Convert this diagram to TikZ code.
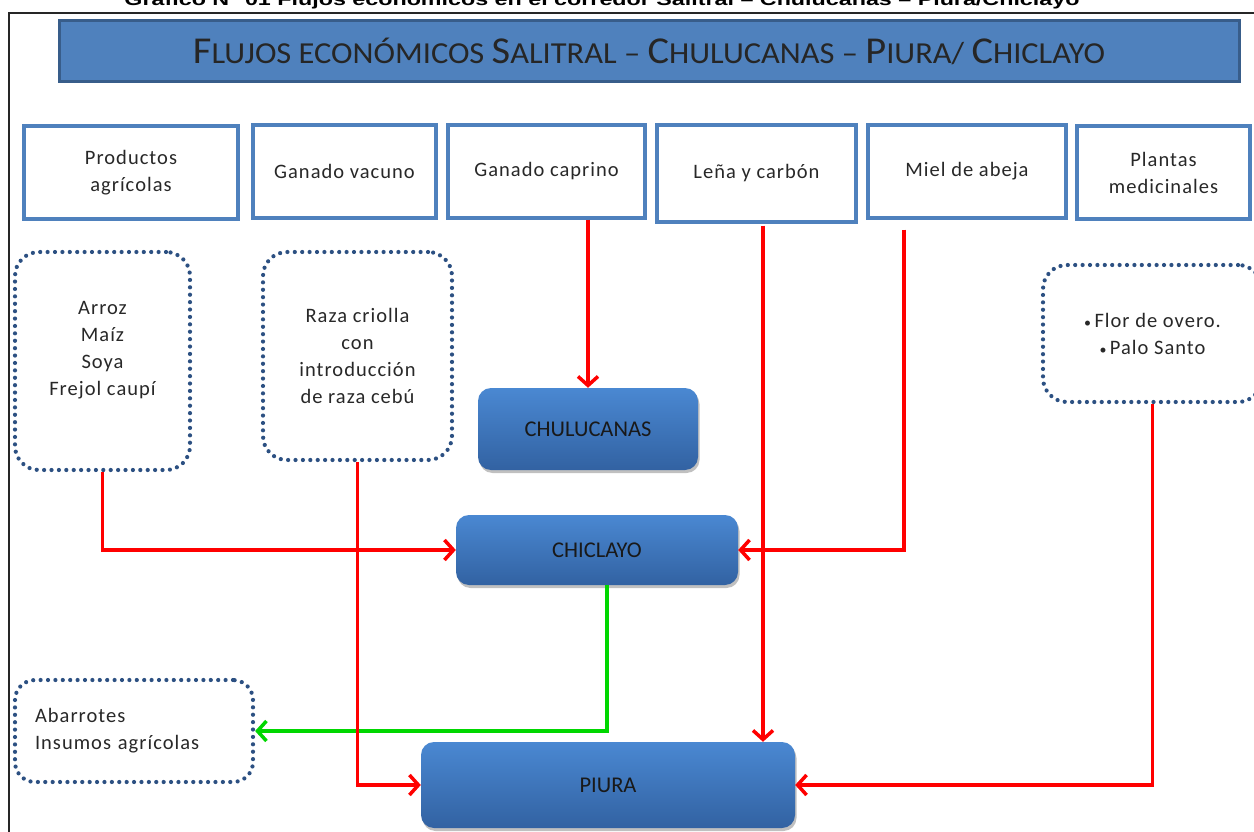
\documentclass[tikz,border=0pt]{standalone}
\usepackage{fontspec}
\usepackage{graphicx}
\setmainfont{Carlito}
\newfontfamily\capfont{Liberation Sans}
\usetikzlibrary{arrows.meta,shadows,calc}
\definecolor{tbfill}{RGB}{79,129,189}
\definecolor{tbdraw}{RGB}{56,93,138}
\definecolor{dotc}{RGB}{44,80,130}
\definecolor{boxtop}{RGB}{74,136,210}
\definecolor{boxbot}{RGB}{50,98,162}
\definecolor{txt}{RGB}{40,40,40}
\definecolor{arred}{RGB}{255,0,0}
\definecolor{argreen}{RGB}{0,215,0}
\newcommand\boxfont{\fontsize{20.5}{27}\selectfont\addfontfeature{LetterSpace=5}}
\newcommand\cityfont{\fontsize{22.5}{25}\selectfont}
\newcommand\Bg[1]{{\fontsize{38}{40}\selectfont #1}}
\tikzset{
  topbox/.style={draw=tbfill, line width=3.2pt, fill=white, minimum height=93pt,
    inner sep=4pt, align=center, text=txt, font=\boxfont},
  dotbox/.style={draw=dotc, line width=4.2pt, dash pattern=on 0pt off 7.4pt,
    line cap=round, rounded corners=24pt, align=center, text=txt, font=\boxfont},
  city/.style={rounded corners=13pt, top color=boxtop, bottom color=boxbot, draw=none,
    drop shadow={shadow xshift=1.5pt, shadow yshift=-3pt, opacity=.35, fill=black!70},
    text=black!90, font=\cityfont},
  flow/.style={draw=arred, line width=3.5pt, -{Straight Barb[length=9pt,width=20pt]}},
  gflow/.style={flow, draw=argreen},
}
\begin{document}
\begin{tikzpicture}[x=1pt,y=-1pt]
\useasboundingbox (0,0) rectangle (1254,832);
\clip (0,0) rectangle (1254,832);
\fill[white] (0,0) rectangle (1254,832);

% caption (cut at top, as in the reference) and frame
\node[font=\capfont\bfseries\fontsize{17}{18}\selectfont, anchor=base, inner sep=0pt] (gtitle) at (602,6)
  {\resizebox{955pt}{\height}{Gráfico N° 01 Flujos económicos en el corredor Salitral – Chulucanas – Piura/Chiclayo}};
\draw[line width=1.4pt, black!85] (9,840) -- (9,13) -- (1260,13);

% title bar
\node[draw=tbdraw, fill=tbfill, line width=3pt, minimum width=1180pt, minimum height=61pt,
  inner sep=0pt, text=black!85] (title) at (649,51.5)
  {\resizebox{912pt}{\height}{\fontsize{30.5}{32}\selectfont\Bg{F}LUJOS ECONÓMICOS \Bg{S}ALITRAL – \Bg{C}HULUCANAS – \Bg{P}IURA/ \Bg{C}HICLAYO}};

% top category boxes
\node[topbox, minimum width=214pt] (prod) at (131,172.5) {Productos\\agrícolas};
\node[topbox, minimum width=183pt] (vac) at (344.5,171.5) {Ganado vacuno};
\node[topbox, minimum width=197pt] (capr) at (546.5,171.5) {Ganado caprino};
\node[topbox, minimum width=199pt, minimum height=97pt] (lena) at (756.5,173.5) {Leña y carbón};
\node[topbox, minimum width=198pt] (miel) at (967,171.5) {Miel de abeja};
\node[topbox, minimum width=173pt] (plant) at (1163.5,172.5) {Plantas\\medicinales};

% dotted detail boxes
\node[dotbox, minimum width=175pt, minimum height=218pt] (arroz) at (102.5,361)
  {Arroz\\Maíz\\Soya\\Frejol caupí\\[-1pt]};
\node[dotbox, minimum width=189pt, minimum height=208pt] (raza) at (357.5,356)
  {Raza criolla\\con\\introducción\\de raza cebú};
\node[dotbox, minimum width=219pt, minimum height=137pt] (flor) at (1152.5,333.5)
  {{\fontsize{14}{14}\selectfont•}\,Flor de overo.\\{\fontsize{14}{14}\selectfont•}\,Palo Santo};
\node[dotbox, rounded corners=20pt, minimum width=238pt, minimum height=102pt,
  text width=198pt, align=left, inner sep=0pt] (abarr) at (134,731)
  {Abarrotes\\Insumos agrícolas};

% city boxes
\node[city, minimum width=220pt, minimum height=82pt] (chul) at (588,429) {CHULUCANAS};
\node[city, minimum width=282pt, minimum height=70pt] (chic) at (597,550) {CHICLAYO};
\node[city, minimum width=374pt, minimum height=86pt] (piura) at (608,785) {PIURA};

% x positions of vertical flows
\coordinate (lx) at (763,0);
\coordinate (mx) at (904,0);
\coordinate (gx) at (607,0);

% flows
\draw[gflow] (chic.south -| gx) |- (abarr.east);
\draw[flow] (capr.south -| chul.north) -- (chul.north);
\draw[flow, shorten <=2pt] (lena.south -| lx) -- (piura.north -| lx);
\draw[flow, shorten <=10pt] (miel.south -| mx) |- (chic.east);
\draw[flow] (arroz.south) |- (chic.west);
\draw[flow] (raza.south) |- (piura.west);
\draw[flow] (flor.south) |- (piura.east);
\end{tikzpicture}
\end{document}
